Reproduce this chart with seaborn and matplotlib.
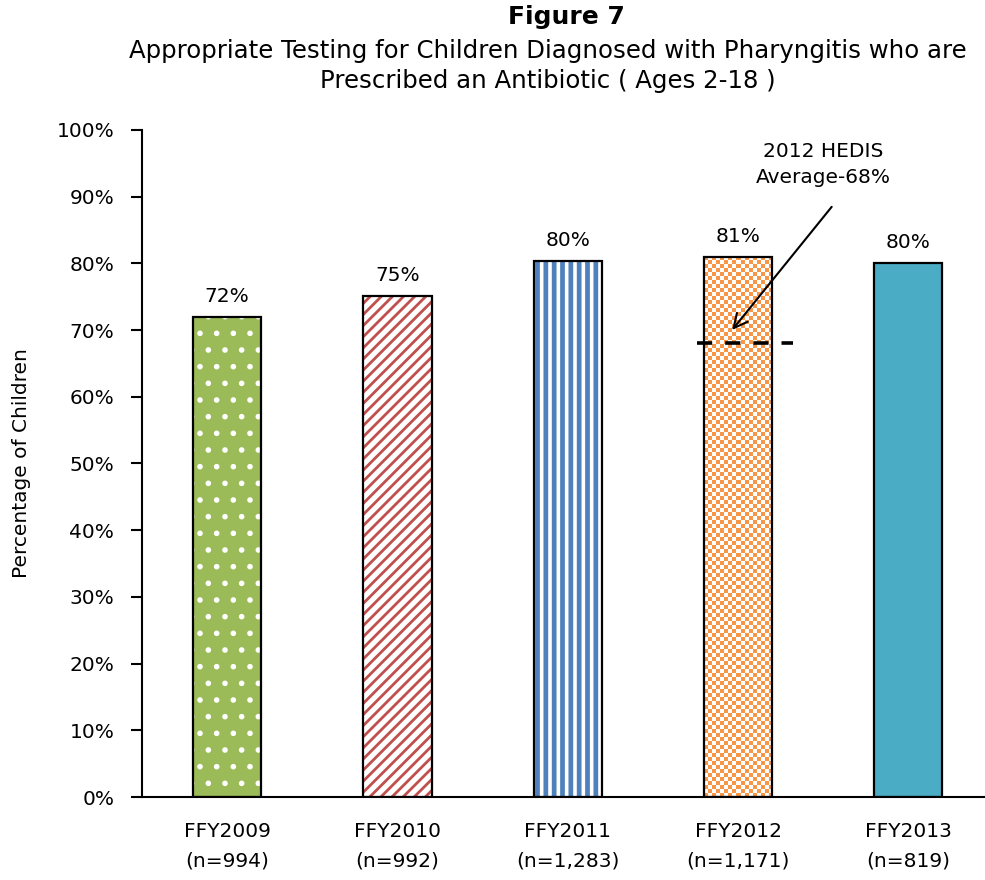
import matplotlib
matplotlib.use("Agg")
import matplotlib.pyplot as plt
import numpy as np
import pandas as pd
import seaborn as sns
from matplotlib.patches import Rectangle
from matplotlib.ticker import FuncFormatter

YEARS = ["FFY2009", "FFY2010", "FFY2011", "FFY2012", "FFY2013"]
COUNTS = ["(n=994)", "(n=992)", "(n=1,283)", "(n=1,171)", "(n=819)"]
RATES = [72.0, 75.1, 80.4, 81.0, 80.0]
RATE_LABELS = ["72%", "75%", "80%", "81%", "80%"]
HEDIS_AVG = 68.0

FACE_COLORS = ["#9BBB59", "white", "white", "#F79646", "#4BACC6"]
HATCH_COLORS = ["white", "#C0504D", "#4F81BD", None, None]
HATCHES = [".", "///", "||", None, None]
HATCH_WIDTHS = [1.6, 2.0, 3.4, None, None]

sns.set_style("white")
plt.rcParams["font.family"] = ["DejaVu Sans"]
plt.rcParams["hatch.linewidth"] = 2.0
for key in ["text.color", "axes.labelcolor", "xtick.color", "ytick.color"]:
    plt.rcParams[key] = "black"
FS = 14.5

df = pd.DataFrame({"year": YEARS, "label": [f"{y}\n{n}" for y, n in zip(YEARS, COUNTS)], "rate": RATES})

fig = plt.figure(figsize=(9.85, 8.8), dpi=100)
ax = fig.add_axes([142 / 985, 1 - 797 / 880, 1 - 142 / 985, (797 - 130) / 880])

sns.barplot(data=df, x="label", y="rate", hue="label", palette=FACE_COLORS,
            legend=False, width=0.4, saturation=1, ax=ax)

bars = sorted(ax.patches, key=lambda p: p.get_x())
for i, p in enumerate(bars):
    p.set_linewidth(0)
    if HATCHES[i]:
        p.set_hatch(HATCHES[i])
        p.set_edgecolor(HATCH_COLORS[i])
        if hasattr(p, "set_hatch_linewidth"):
            p.set_hatch_linewidth(HATCH_WIDTHS[i])
    x0, y0 = p.get_xy()
    w, h = p.get_width(), p.get_height()
    if i == 3:
        # checkerboard fill for FFY2012
        nx, ny = 17, 135
        checks = (np.add.outer(np.arange(ny), np.arange(nx)) % 2).astype(float)
        cmap = matplotlib.colors.ListedColormap(["#F79646", "white"])
        im = ax.imshow(checks, extent=(x0, x0 + w, y0, y0 + h), cmap=cmap,
                       interpolation="nearest", aspect="auto", zorder=p.get_zorder())
        im.set_clip_path(p)
    ax.add_patch(Rectangle((x0, y0), w, h, fill=False,
                           edgecolor="black", linewidth=1.6, zorder=3))
    ax.annotate(RATE_LABELS[i], xy=(x0 + w / 2, y0 + h), xytext=(0, 8),
                textcoords="offset points", ha="center", va="bottom", fontsize=FS)

# HEDIS average reference line
ax.plot([2.76, 3.32], [HEDIS_AVG, HEDIS_AVG], color="black", lw=2.6,
        dashes=(4.2, 3.6), zorder=4)
ax.text(3.5, 94.8, "2012 HEDIS\nAverage-68%", ha="center", va="center",
        fontsize=FS, linespacing=1.45)
ax.annotate("", xy=(2.955, 69.7), xytext=(3.56, 88.8),
            arrowprops=dict(arrowstyle="->", color="black", lw=1.5,
                            mutation_scale=25))

ax.set_xlim(-0.5, 4.45)
ax.set_ylim(0, 100)
ax.set_yticks(range(0, 101, 10))
ax.yaxis.set_major_formatter(FuncFormatter(lambda v, _: f"{v:.0f}%"))
ax.tick_params(axis="y", direction="out", length=8, width=1.5, labelsize=FS, pad=12, left=True)
ax.tick_params(axis="x", length=0, labelsize=FS, pad=18)
for lab in ax.get_xticklabels():
    lab.set_linespacing(1.7)
ax.set_xlabel("")
ax.set_ylabel("Percentage of Children", fontsize=FS, labelpad=18)

sns.despine(ax=ax)
for side in ["left", "bottom"]:
    ax.spines[side].set_linewidth(1.5)
    ax.spines[side].set_color("black")

fig.text(566 / 985, 1 - 17 / 880, "Figure 7", ha="center", va="center",
         fontsize=18, fontweight="bold")
fig.text(548 / 985, 1 - 66 / 880,
         "Appropriate Testing for Children Diagnosed with Pharyngitis who are\nPrescribed an Antibiotic ( Ages 2-18 )",
         ha="center", va="center", fontsize=17.6, linespacing=1.3)

fig.savefig("out.png", dpi=100)
